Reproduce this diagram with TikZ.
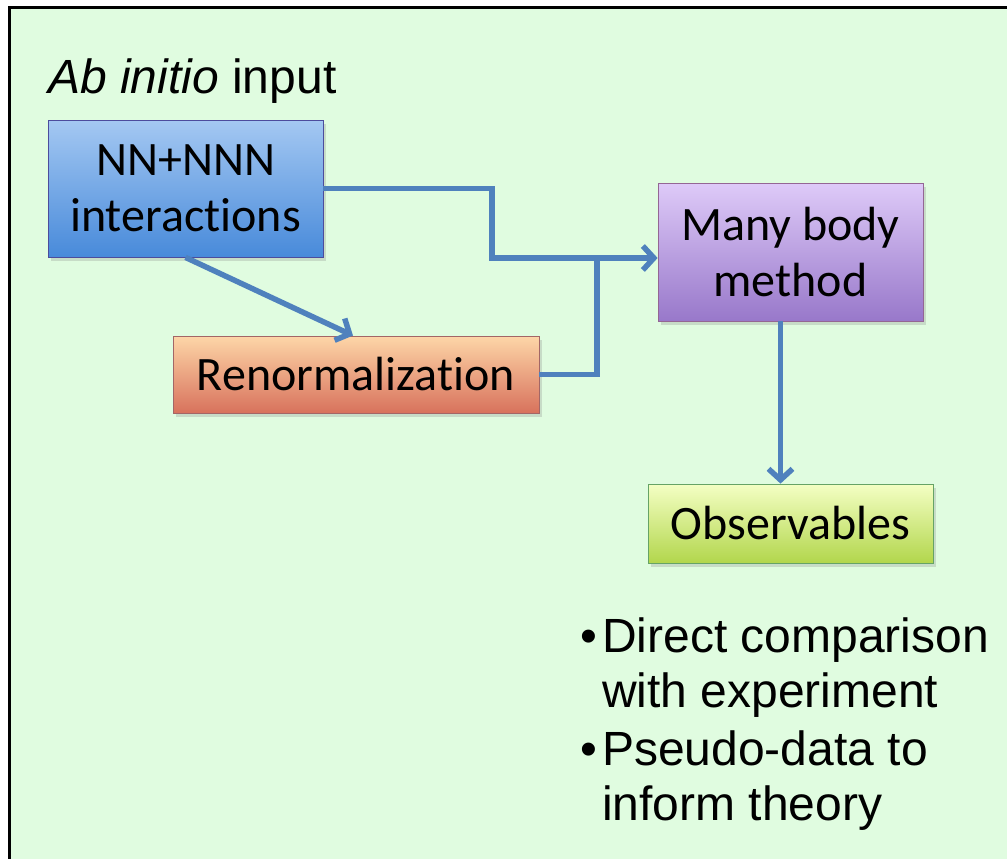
\documentclass[tikz,border=0pt]{standalone}
\usepackage{fontspec}
\setmainfont{Liberation Sans}
\newfontfamily\boxfont[Ligatures=NoCommon]{Carlito}
\usetikzlibrary{arrows.meta,positioning,shadows}
\definecolor{bggreen}{RGB}{224,252,224}
\definecolor{linkblue}{RGB}{79,129,189}

\begin{document}
\begin{tikzpicture}[x=1pt, y=-1pt,
    >={Straight Barb[length=11pt,width=24pt]},
    box/.style={draw, line width=0.8pt, inner sep=0pt, align=center,
      font=\boxfont\fontsize{48}{56}\selectfont,
      drop shadow={opacity=0.25, shadow xshift=3pt, shadow yshift=-4pt}},
    link/.style={draw=linkblue, line width=5.5pt, ->},
    bullettext/.style={anchor=base west, inner sep=0pt, align=left,
      font=\fontsize{48}{55}\selectfont}]
    \useasboundingbox (0,0) rectangle (1007,859);
    \fill[white] (0,0) rectangle (1007,859);
    \draw[line width=3pt, fill=bggreen] (9,8) rectangle (1030,890);

    \node[anchor=base west, inner sep=0pt, font=\fontsize{48}{56}\selectfont] (title) at (48,93) {\textit{Ab initio} input};

    \node[box, draw=blue!45!black!70, top color={rgb,255:red,164;green,200;blue,242}, bottom color={rgb,255:red,72;green,138;blue,218},
      minimum width=275pt, minimum height=137pt] (nn) at (185.5,188.5) {NN+NNN\\interactions};
    \node[box, draw=red!40!black!60, top color={rgb,255:red,253;green,214;blue,168}, bottom color={rgb,255:red,216;green,114;blue,92},
      minimum width=366pt, minimum height=77pt] (renorm) at (356,374.5) {Renormalization};
    \node[box, draw=violet!60!black!60, top color={rgb,255:red,222;green,202;blue,248}, bottom color={rgb,255:red,152;green,120;blue,202},
      minimum width=265pt, minimum height=138pt] (mbm) at (790.5,252) {Many body\\method};
    \node[box, draw=green!40!black!60, top color={rgb,255:red,244;green,255;blue,196}, bottom color={rgb,255:red,178;green,214;blue,76},
      minimum width=285pt, minimum height=79pt] (obs) at (790.5,523.5) {Observables};

    \coordinate (bend) at (492,258);
    \coordinate (join) at (597,258);

    \draw[link] (nn.east) -| (bend) -- (bend -| mbm.west);
    \draw[link, -] (renorm.east) -| (join);
    \draw[link] (nn.south) -- ([xshift=-3pt]renorm.north);
    \draw[link] ([xshift=-10pt]mbm.south) -- ([xshift=-10pt]obs.north);

    \node[bullettext] (item1) at (580,707) {\makebox[22pt][l]{\textbullet}Direct comparison\\\hspace*{22pt}with experiment};
    \node[bullettext] (item2) at (580,820) {\makebox[22pt][l]{\textbullet}Pseudo-data to\\\hspace*{22pt}inform theory};
\end{tikzpicture}
\end{document}
